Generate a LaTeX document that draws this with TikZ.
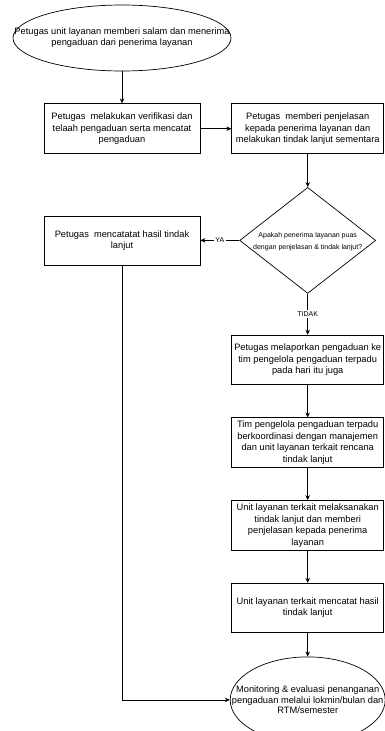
\documentclass[tikz,border=0pt]{standalone}
\usepackage{fontspec}
\setmainfont{Liberation Sans}
\usetikzlibrary{shapes.geometric, arrows.meta, positioning}
\tikzset{
  terminal/.style={
    ellipse, draw=black, line width=0.7pt, inner sep=0pt,
  },
  process/.style={
    rectangle, draw=black, line width=0.7pt,
    minimum width=152pt, minimum height=50pt, inner sep=2pt,
    align=center, font=\fontsize{9.3}{11.5}\selectfont,
  },
  decision/.style={
    diamond, draw=black, line width=0.7pt,
    minimum width=136pt, minimum height=106pt, inner sep=0pt,
  },
  bodytext/.style={align=center, font=\fontsize{9.3}{11}\selectfont, inner sep=0pt},
  smalltext/.style={align=center, font=\fontsize{7}{12}\selectfont, inner sep=0pt},
  arrow/.style={-{Stealth[length=5pt, width=4.5pt]}, line width=0.7pt, color=black},
  branch/.style={font=\fontsize{7}{8}\selectfont, fill=white, inner sep=1.5pt},
}
\begin{document}
\begin{tikzpicture}[x=1pt, y=-1pt]
  \useasboundingbox (0,0) rectangle (384,731);

  % kolom kiri
  \node[terminal, minimum width=218pt, minimum height=66pt] (start) at (122,38) {};
  \node[bodytext] (startText) at (start) {Petugas unit layanan memberi salam dan menerima\\pengaduan dari penerima layanan};
  \node[process, minimum width=156pt, below=32pt of start] (verify) {Petugas~ melakukan verifikasi dan\\telaah pengaduan serta mencatat\\pengaduan};
  \node[process, right=31pt of verify] (explain) {Petugas~ memberi penjelasan\\kepada penerima layanan dan\\melakukan tindak lanjut sementara};

  % keputusan
  \node[decision, below=33pt of explain] (check) {};
  \node[smalltext, yshift=-1pt] (checkText) at (check) {Apakah penerima layanan puas\\dengan penjelasan \& tindak lanjut?};
  \node[process, minimum width=156pt, minimum height=49pt] (record) at (verify |- check) {Petugas~ mencatatat hasil tindak\\lanjut};

  % kolom kanan
  \node[process, minimum height=49pt, below=41pt of check] (report) {Petugas melaporkan pengaduan ke\\tim pengelola pengaduan terpadu\\pada hari itu juga};
  \node[process, below=33pt of report] (plan) {Tim pengelola pengaduan terpadu\\berkoordinasi dengan manajemen\\dan unit layanan terkait rencana\\tindak lanjut};
  \node[process, below=32pt of plan] (act) {Unit layanan terkait melaksanakan\\tindak lanjut dan memberi\\penjelasan kepada penerima\\layanan};
  \node[process, minimum height=49pt, below=32pt of act] (log) {Unit layanan terkait mencatat hasil\\tindak lanjut};
  \node[terminal, minimum width=155pt, minimum height=86pt, below=24pt of log] (finish) {};
  \node[bodytext, font=\fontsize{9.3}{10.3}\selectfont] (finishText) at (finish) {Monitoring \& evaluasi penanganan\\pengaduan melalui lokmin/bulan dan\\RTM/semester};

  \draw[arrow] (start) -- (verify);
  \draw[arrow] (verify) -- (explain);
  \draw[arrow] (explain) -- (check);
  \draw[arrow] (check) -- node[branch]{YA} (record);
  \draw[arrow] (check) -- node[branch]{TIDAK} (report);
  \draw[arrow] (report) -- (plan);
  \draw[arrow] (plan) -- (act);
  \draw[arrow] (act) -- (log);
  \draw[arrow] (log) -- (finish);
  \draw[arrow] (record) |- (finish);

\end{tikzpicture}
\end{document}
